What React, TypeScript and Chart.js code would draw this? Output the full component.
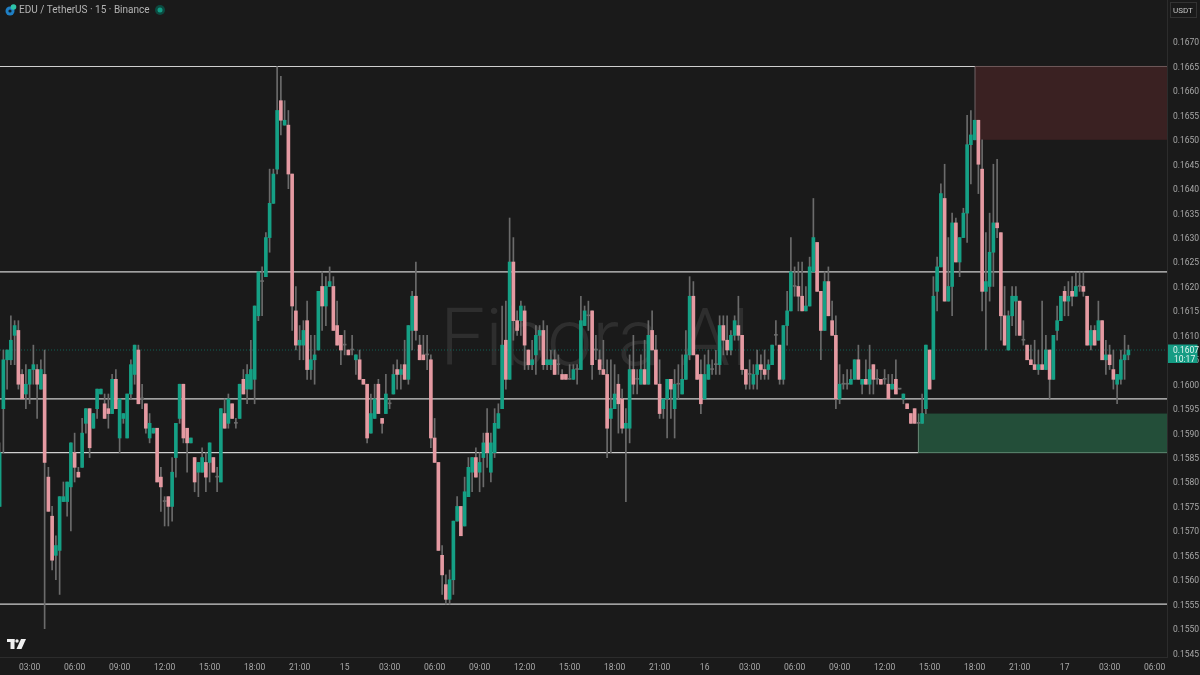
import React, { useEffect, useRef } from "react";
import { Chart, registerables } from "chart.js";

Chart.register(...registerables);

// Candle prices in units of 0.0001 (EDU/USDT, 15 min)
const opens = [
  1575,1595,1605,1605,1610,1611,1602,1598,1600,1603,
  1603,1599,1602,1581,1573,1565,1566,1576,1576,1579,
  1586,1582,1583,1592,1595,1591,1595,1598,1596,1595,
  1594,1601,1589,1593,1589,1598,1602,1607,1597,1596,
  1589,1590,1591,1581,1576,1577,1575,1585,1593,1600,
  1591,1588,1585,1582,1582,1584,1584,1585,1581,1580,
  1594,1592,1596,1592,1593,1601,1599,1599,1601,1614,
  1621,1622,1630,1637,1644,1658,1653,1653,1643,1615,
  1608,1608,1613,1603,1605,1607,1620,1616,1620,1620,
  1612,1610,1608,1607,1607,1605,1605,1601,1600,1590,
  1593,1600,1593,1594,1596,1598,1603,1602,1604,1601,
  1611,1618,1608,1606,1606,1605,1589,1584,1565,1559,
  1556,1560,1572,1575,1571,1577,1582,1585,1582,1585,
  1590,1582,1586,1591,1595,1609,1601,1625,1613,1613,
  1615,1607,1604,1606,1610,1611,1604,1604,1605,1604,
  1602,1602,1601,1601,1603,1603,1612,1614,1615,1607,
  1605,1603,1602,1593,1595,1600,1597,1591,1591,1603,
  1601,1600,1603,1600,1611,1607,1600,1595,1597,1601,
  1595,1600,1598,1601,1606,1618,1606,1602,1597,1601,
  1603,1604,1604,1612,1609,1607,1610,1612,1610,1603,
  1602,1600,1602,1604,1603,1603,1604,1610,1608,1601,
  1612,1615,1620,1620,1618,1615,1616,1623,1629,1619,
  1611,1621,1613,1610,1597,1600,1600,1600,1601,1605,
  1600,1601,1600,1604,1601,1601,1601,1600,1599,1601,
  1599,1597,1596,1594,1595,1592,1592,1595,1607,1601,
  1619,1624,1638,1617,1620,1633,1625,1630,1635,1649,
  1650,1654,1644,1619,1620,1627,1633,1631,1614,1607,
  1614,1617,1617,1609,1608,1605,1604,1603,1604,1603,
  1607,1601,1611,1613,1619,1617,1619,1618,1620,1620,
  1618,1608,1611,1609,1613,1605,1606,1603,1600,1601,1605,1606,
];
const highs = [
  1588,1607,1607,1614,1613,1613,1603,1604,1603,1608,
  1604,1605,1607,1583,1575,1569,1577,1580,1580,1588,
  1590,1583,1593,1595,1595,1594,1599,1599,1598,1598,
  1602,1603,1597,1594,1598,1605,1608,1608,1600,1596,
  1594,1591,1591,1583,1577,1577,1585,1592,1600,1600,
  1591,1589,1585,1584,1587,1586,1588,1585,1583,1595,
  1597,1598,1596,1593,1600,1603,1604,1609,1616,1623,
  1624,1631,1644,1644,1665,1663,1658,1656,1643,1620,
  1612,1613,1617,1610,1610,1619,1623,1622,1624,1622,
  1617,1610,1611,1607,1610,1606,1607,1601,1600,1598,
  1600,1601,1593,1602,1597,1604,1605,1604,1609,1612,
  1619,1625,1610,1610,1610,1606,1593,1584,1567,1561,
  1562,1572,1577,1575,1581,1585,1585,1587,1586,1590,
  1595,1590,1595,1596,1616,1617,1634,1630,1615,1617,
  1616,1607,1609,1612,1612,1613,1612,1607,1607,1606,
  1603,1602,1604,1604,1604,1618,1616,1617,1615,1610,
  1607,1609,1605,1605,1604,1602,1599,1595,1606,1610,
  1603,1606,1609,1613,1615,1610,1605,1597,1601,1601,
  1603,1604,1606,1611,1622,1621,1606,1605,1606,1607,
  1605,1607,1614,1614,1614,1611,1614,1618,1610,1603,
  1605,1604,1607,1606,1607,1605,1608,1613,1608,1612,
  1619,1630,1624,1625,1625,1620,1626,1638,1629,1619,
  1623,1624,1617,1614,1604,1602,1603,1603,1605,1608,
  1601,1605,1608,1604,1603,1601,1603,1602,1602,1605,
  1599,1598,1596,1594,1595,1592,1598,1608,1607,1622,
  1626,1641,1645,1630,1635,1634,1630,1636,1655,1656,
  1654,1654,1650,1631,1635,1645,1646,1631,1620,1615,
  1620,1620,1617,1613,1608,1608,1609,1607,1617,1610,
  1607,1610,1616,1618,1620,1621,1622,1623,1623,1623,
  1618,1612,1612,1617,1613,1609,1608,1607,1602,1607,1610,1608,
];
const lows = [
  1575,1586,1599,1604,1604,1599,1597,1595,1596,1600,
  1593,1599,1550,1574,1562,1560,1557,1576,1573,1570,
  1580,1581,1583,1590,1585,1591,1593,1598,1593,1591,
  1594,1595,1586,1592,1589,1597,1600,1596,1595,1590,
  1588,1590,1580,1574,1571,1571,1572,1581,1592,1588,
  1582,1588,1578,1577,1582,1578,1580,1582,1578,1580,
  1591,1591,1593,1591,1593,1598,1596,1599,1596,1613,
  1614,1622,1627,1637,1643,1651,1653,1640,1611,1607,
  1605,1605,1601,1601,1600,1607,1611,1612,1620,1611,
  1608,1604,1606,1606,1606,1602,1601,1600,1588,1590,
  1593,1594,1590,1594,1595,1598,1599,1599,1601,1600,
  1607,1609,1605,1605,1603,1587,1584,1566,1557,1555,
  1555,1557,1572,1569,1571,1577,1578,1581,1578,1579,
  1583,1580,1585,1591,1595,1599,1601,1609,1610,1610,
  1603,1603,1603,1602,1607,1603,1603,1603,1602,1602,
  1601,1601,1601,1601,1600,1603,1612,1611,1601,1605,
  1602,1602,1585,1586,1595,1590,1590,1576,1588,1598,
  1598,1600,1600,1600,1607,1600,1593,1593,1589,1593,
  1589,1597,1598,1601,1605,1606,1601,1594,1597,1601,
  1602,1602,1602,1606,1606,1606,1609,1609,1602,1599,
  1599,1599,1599,1601,1601,1601,1604,1608,1600,1600,
  1608,1615,1618,1615,1615,1615,1616,1623,1619,1605,
  1611,1614,1610,1595,1596,1599,1599,1600,1601,1601,
  1598,1600,1598,1598,1600,1600,1600,1597,1599,1598,
  1599,1596,1595,1592,1592,1592,1592,1594,1599,1601,
  1615,1624,1617,1617,1614,1625,1622,1630,1629,1641,
  1650,1639,1615,1607,1617,1620,1630,1609,1608,1607,
  1612,1610,1610,1608,1605,1604,1603,1602,1603,1603,
  1597,1601,1609,1613,1614,1614,1616,1618,1619,1618,
  1608,1607,1608,1609,1605,1602,1603,1599,1596,1600,1601,1605,
];
const closes = [
  1586,1605,1607,1609,1612,1600,1597,1600,1603,1604,
  1600,1603,1584,1574,1564,1567,1577,1577,1580,1588,
  1583,1581,1590,1595,1587,1594,1599,1599,1593,1594,
  1601,1595,1597,1594,1598,1604,1608,1596,1597,1591,
  1592,1591,1580,1579,1576,1575,1582,1592,1600,1589,
  1588,1589,1580,1584,1585,1581,1588,1582,1581,1595,
  1591,1597,1593,1592,1600,1598,1602,1603,1616,1623,
  1621,1630,1637,1643,1656,1654,1654,1643,1616,1608,
  1609,1611,1603,1605,1606,1619,1616,1620,1621,1611,
  1608,1607,1608,1606,1607,1606,1601,1600,1589,1594,
  1597,1594,1592,1598,1596,1602,1602,1603,1601,1612,
  1618,1611,1605,1605,1606,1589,1584,1566,1561,1556,
  1560,1572,1575,1569,1578,1583,1585,1581,1584,1588,
  1586,1588,1592,1594,1608,1601,1625,1613,1611,1616,
  1608,1604,1605,1610,1611,1604,1605,1605,1602,1604,
  1601,1601,1601,1603,1603,1613,1615,1614,1604,1607,
  1603,1602,1591,1595,1598,1596,1591,1592,1603,1600,
  1601,1603,1600,1610,1607,1600,1594,1597,1601,1599,
  1600,1600,1601,1606,1618,1606,1601,1596,1602,1604,
  1603,1604,1612,1609,1607,1610,1613,1610,1603,1600,
  1602,1602,1604,1603,1602,1604,1608,1610,1601,1612,
  1615,1623,1620,1618,1615,1616,1624,1630,1619,1611,
  1621,1614,1610,1597,1600,1600,1600,1601,1605,1601,
  1601,1600,1603,1601,1601,1600,1601,1597,1600,1598,
  1599,1598,1595,1592,1592,1592,1594,1608,1599,1618,
  1624,1639,1617,1620,1633,1625,1630,1635,1649,1651,
  1654,1645,1619,1621,1627,1633,1632,1614,1608,1614,
  1618,1618,1610,1609,1605,1604,1603,1604,1603,1607,
  1601,1610,1613,1618,1617,1618,1618,1620,1620,1619,
  1608,1611,1608,1613,1605,1606,1604,1601,1602,1605,1606,1607,
];

const priceTicks = [1670,1665,1660,1655,1650,1645,1640,1635,1630,1625,1620,1615,1610,1605,1600,1595,1590,1585,1580,1575,1570,1565,1560,1555,1550,1545];
const timeTickIndex = [8,20,32,44,56,68,80,92,104,116,128,140,152,164,176,188,200,212,224,236,248,260,272,284,296,308];
const timeTickLabels = ["03:00","06:00","09:00","12:00","15:00","18:00","21:00","15","03:00","06:00","09:00","12:00","15:00","18:00","21:00","16","03:00","06:00","09:00","12:00","15:00","18:00","21:00","17","03:00","06:00"];

const levelPrices = [1623, 1597, 1555];
const topLevel = { price: 1665, endIndex: 260.1 };
const lowerLevel = { price: 1586, endIndex: 245 };
const lastPrice = 1607;
const redZone = { start: 260.1, top: 1665, bottom: 1650 };
const greenZone = { start: 245, top: 1594, bottom: 1586 };
const watermark = "Fibora AI";
const headerTitle = "EDU / TetherUS · 15 · Binance";
const unitLabel = "USDT";
const priceTag = ["0.1607", "10:17"];

const GREEN = "#15a085";
const RED = "#e59aa2";
const WICK = "#6b6b6b";
const BG = "#1a1a1a";
const FONT = "Roboto, 'Liberation Sans', sans-serif";

const p = (v: number) => v / 10000;

const overlay = {
  id: "overlay",
  beforeDraw(chart: any) {
    const { ctx, width, height } = chart;
    ctx.save();
    ctx.fillStyle = BG;
    ctx.fillRect(0, 0, width, height);
    ctx.restore();
  },
  beforeDatasetsDraw(chart: any) {
    const { ctx, chartArea, scales } = chart;
    const x = scales.x;
    const y = scales.y;
    const py = (v: number) => y.getPixelForValue(p(v));
    ctx.save();
    ctx.beginPath();
    ctx.rect(chartArea.left, chartArea.top, chartArea.right - chartArea.left, chartArea.bottom - chartArea.top);
    ctx.clip();

    ctx.fillStyle = "#2e2e2e";
    ctx.font = "300 80px Roboto, 'Liberation Sans', sans-serif";
    ctx.textBaseline = "alphabetic";
    ctx.textAlign = "left";
    ctx.fillText(watermark, 440, 365);

    const rx = x.getPixelForValue(redZone.start);
    const gx = x.getPixelForValue(greenZone.start);
    ctx.fillStyle = "#3a2122";
    ctx.fillRect(rx, py(redZone.top), chartArea.right - rx, py(redZone.bottom) - py(redZone.top));
    ctx.fillStyle = "#234e39";
    ctx.fillRect(gx, py(greenZone.top), chartArea.right - gx, py(greenZone.bottom) - py(greenZone.top));

    ctx.strokeStyle = "#0e6154";
    ctx.lineWidth = 1;
    ctx.setLineDash([1, 2]);
    ctx.beginPath();
    ctx.moveTo(chartArea.left, py(lastPrice));
    ctx.lineTo(chartArea.right, py(lastPrice));
    ctx.stroke();
    ctx.setLineDash([]);

    const seg = (x0: number, x1: number, y0: number, c: string, w = 1.2) => {
      ctx.strokeStyle = c;
      ctx.lineWidth = w;
      ctx.beginPath();
      ctx.moveTo(x0, y0);
      ctx.lineTo(x1, y0);
      ctx.stroke();
    };
    for (const lv of levelPrices) seg(chartArea.left, chartArea.right, py(lv), "#cfcfcf");
    seg(chartArea.left, rx, py(topLevel.price), "#cfcfcf");
    seg(rx, chartArea.right, py(topLevel.price), "#6f5a5b", 1);
    seg(chartArea.left, gx, py(lowerLevel.price), "#cfcfcf");
    seg(gx, chartArea.right, py(lowerLevel.price), "#5f8a72", 1);

    // left edges of the two zones
    ctx.lineWidth = 1;
    ctx.strokeStyle = "#6f6264";
    ctx.beginPath();
    ctx.moveTo(rx, py(redZone.top));
    ctx.lineTo(rx, py(redZone.bottom));
    ctx.stroke();
    ctx.strokeStyle = "#6a8a78";
    ctx.beginPath();
    ctx.moveTo(gx, py(greenZone.top));
    ctx.lineTo(gx, py(greenZone.bottom));
    ctx.stroke();
    ctx.restore();
  },
  afterDraw(chart: any) {
    const { ctx, scales } = chart;
    const y = scales.y;
    ctx.save();

    // header logo
    ctx.fillStyle = "#1f7fc4";
    ctx.beginPath();
    ctx.arc(10, 11, 4.5, 0, Math.PI * 2);
    ctx.fill();
    ctx.fillStyle = "#2fc4a8";
    ctx.beginPath();
    ctx.arc(13.5, 7, 2.8, 0, Math.PI * 2);
    ctx.fill();
    ctx.fillStyle = "#10202a";
    ctx.beginPath();
    ctx.arc(10, 11, 1.6, 0, Math.PI * 2);
    ctx.fill();

    ctx.fillStyle = "#b4b4b4";
    ctx.font = `10px ${FONT}`;
    ctx.textAlign = "left";
    ctx.textBaseline = "middle";
    ctx.fillText(headerTitle, 19, 10.5);

    ctx.fillStyle = "#0c4a40";
    ctx.beginPath();
    ctx.arc(160, 10, 5, 0, Math.PI * 2);
    ctx.fill();
    ctx.fillStyle = "#129a83";
    ctx.beginPath();
    ctx.arc(160, 10, 2.5, 0, Math.PI * 2);
    ctx.fill();

    // unit button
    ctx.strokeStyle = "#333333";
    ctx.lineWidth = 1;
    ctx.strokeRect(1170.5, 2.5, 26, 15);
    ctx.fillStyle = "#c4c4c4";
    ctx.font = `8px ${FONT}`;
    ctx.textAlign = "left";
    ctx.fillText(unitLabel, 1173, 10.5);

    // price tag
    const ty = y.getPixelForValue(p(lastPrice));
    ctx.fillStyle = "#159c84";
    ctx.fillRect(1168, ty - 5.5, 29.5, 18.5);
    ctx.fillStyle = "#e4f5f1";
    ctx.font = `8.5px ${FONT}`;
    ctx.textAlign = "left";
    ctx.fillText(priceTag[0], 1173, ty + 0.5);
    ctx.fillText(priceTag[1], 1174, ty + 9.5);

    // TradingView mark
    ctx.fillStyle = "#f0f0f0";
    ctx.fillRect(7, 639, 7.5, 3);
    ctx.fillRect(10.5, 639, 4, 10);
    ctx.beginPath();
    ctx.arc(17, 641, 1.7, 0, Math.PI * 2);
    ctx.fill();
    ctx.beginPath();
    ctx.moveTo(21, 639);
    ctx.lineTo(26, 639);
    ctx.lineTo(21.5, 649);
    ctx.lineTo(16.5, 649);
    ctx.closePath();
    ctx.fill();
    ctx.restore();
  },
};

const noPadding = (s: any) => {
  s.paddingLeft = 0;
  s.paddingRight = 0;
  s.paddingTop = 0;
  s.paddingBottom = 0;
};

export default function App() {
  const ref = useRef<HTMLCanvasElement | null>(null);
  useEffect(() => {
    document.body.style.margin = "0";
    document.body.style.background = BG;
    const candleIdx = opens.map((_, i) => i);
    const colours = candleIdx.map((i) =>
      closes[i] > opens[i] ? GREEN : closes[i] < opens[i] ? RED : WICK
    );
    const chart = new Chart(ref.current as HTMLCanvasElement, {
      type: "bar",
      data: {
        datasets: [
          {
            label: "Body",
            order: 1,
            data: candleIdx.map((i) => ({ x: i, y: [p(opens[i]), p(closes[i])] })),
            backgroundColor: colours,
            barThickness: 3,
            minBarLength: 1,
            grouped: false,
          },
          {
            label: "Wick",
            order: 2,
            data: candleIdx.map((i) => ({ x: i, y: [p(lows[i]), p(highs[i])] })),
            backgroundColor: WICK,
            barThickness: 1,
            grouped: false,
          },
        ],
      } as any,
      options: {
        animation: false,
        responsive: false,
        maintainAspectRatio: false,
        layout: { padding: 0 },
        plugins: { legend: { display: false }, tooltip: { enabled: false }, title: { display: false } },
        scales: {
          x: {
            type: "linear",
            offset: false,
            min: 0.1,
            max: 311.3,
            grid: { display: false, drawTicks: false },
            border: { display: true, color: "#2c2c2c" },
            afterBuildTicks: (s: any) => {
              s.ticks = timeTickIndex.map((v) => ({ value: v }));
            },
            afterFit: (s: any) => {
              s.height = 18;
              noPadding(s);
            },
            ticks: {
              autoSkip: false,
              maxRotation: 0,
              padding: 6,
              color: "#a8a8a8",
              font: { size: 8.5, family: FONT },
              callback: (v: any) => timeTickLabels[timeTickIndex.indexOf(Number(v))],
            },
          },
          y: {
            type: "linear",
            position: "right",
            min: 0.15442,
            max: 0.16786,
            grid: { display: false, drawTicks: false },
            border: { display: true, color: "#2c2c2c" },
            afterBuildTicks: (s: any) => {
              s.ticks = priceTicks.map((v) => ({ value: p(v) }));
            },
            afterFit: (s: any) => {
              s.width = 33;
              noPadding(s);
            },
            ticks: {
              autoSkip: false,
              padding: 6,
              labelOffset: 1.3,
              color: "#a8a8a8",
              font: { size: 8.5, family: FONT },
              callback: (v: any) => Number(v).toFixed(4),
            },
          },
        },
      } as any,
      plugins: [overlay],
    });
    return () => chart.destroy();
  }, []);
  return (
    <div style={{ width: 1200, height: 675 }}>
      <canvas ref={ref} width={1200} height={675} style={{ display: "block" }} />
    </div>
  );
}
